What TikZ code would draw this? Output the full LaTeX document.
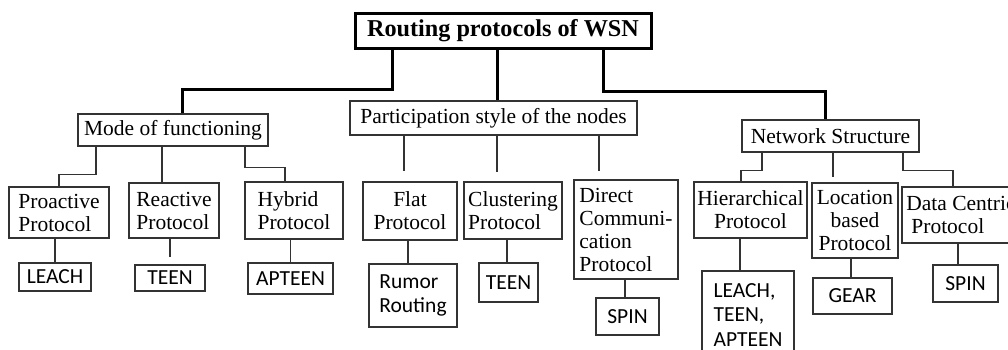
\documentclass[tikz,border=0pt]{standalone}
\usepackage{fontspec}
\setmainfont{Liberation Serif}
\newfontfamily\calfont{Carlito}

\begin{document}
\begin{tikzpicture}[x=1pt, y=-1pt,
  box/.style={draw=black!80, line width=1.2pt, inner sep=0pt, align=left, font=\fontsize{21.5}{23}\selectfont},
  leaf/.style={box, font=\calfont\fontsize{21.5}{24.5}\selectfont},
  trunk/.style={line width=3pt},
  branch/.style={draw=black!80, line width=1.3pt}]
\useasboundingbox (0,0) rectangle (1008,349);
\node[draw, line width=3pt, inner sep=0pt, minimum width=296pt, minimum height=35pt, font=\fontsize{24.2}{26}\selectfont\bfseries] (title) at (503,30.5) {Routing protocols of WSN};
\node[box, minimum width=190pt, minimum height=32pt] (mode) at (173,130) {Mode of functioning};
\node[box, minimum width=287pt, minimum height=34pt] (part) at (493.5,118) {Participation style of the nodes};
\node[box, minimum width=177pt, minimum height=32pt] (net) at (830.5,136) {Network Structure};
\node[box, minimum width=100pt, minimum height=51pt] (pro) at (59,212.5) {Proactive\\Protocol\hspace{6pt}};
\node[box, minimum width=90pt, minimum height=55pt] (react) at (174,210.5) {Reactive\\Protocol};
\node[box, minimum width=98pt, minimum height=57pt] (hyb) at (294,210.5) {Hybrid\\Protocol};
\node[box, align=center, minimum width=94pt, minimum height=58pt] (flat) at (410,211) {Flat\\Protocol};
\node[box, minimum width=98pt, minimum height=57pt] (clu) at (513,210.5) {Clustering\\Protocol};
\node[box, minimum width=104pt, minimum height=99pt] (dir) at (626,229.5) {Direct\\Communi-\\cation\\Protocol};
\node[box, align=center, minimum width=113pt, minimum height=56pt] (hier) at (750.5,210) {Hierarchical\\Protocol};
\node[box, align=center, minimum width=86pt, minimum height=75pt] (loc) at (855,220.5) {Location\\based\\Protocol};
\node[box, minimum width=118pt, minimum height=56pt] (data) at (961,215) {Data Centric\\\hspace{5pt}Protocol};
\node[leaf, minimum width=72pt, minimum height=28pt] (leach) at (55,277) {LEACH};
\node[leaf, minimum width=70pt, minimum height=26pt] (teen) at (170,278) {TEEN};
\node[leaf, minimum width=85pt, minimum height=31pt] (apteen) at (290.5,278.5) {APTEEN};
\node[leaf, minimum width=88pt, minimum height=63pt] (rumor) at (413,295.5) {Rumor\\Routing};
\node[leaf, minimum width=59pt, minimum height=39pt] (teenb) at (508.5,282.5) {TEEN};
\node[leaf, minimum width=63pt, minimum height=37pt] (spin) at (627.5,316.5) {SPIN};
\node[leaf, minimum width=92pt, minimum height=88pt] (mixed) at (748,315) {LEACH,\\TEEN,\\APTEEN};
\node[leaf, minimum width=79pt, minimum height=36pt] (gear) at (852.5,296) {GEAR};
\node[leaf, minimum width=65pt, minimum height=37pt] (spinb) at (965.5,283.5) {SPIN};
\draw[trunk] ([xshift=-111pt]title.south) -- ++(0,40) -| ([xshift=9pt]mode.north);
\draw[trunk] ([xshift=-6pt]title.south) -- ([xshift=3.5pt]part.north);
\draw[trunk] ([xshift=100pt]title.south) -- ++(0,42) -| ([xshift=-5.5pt]net.north);
\draw[branch] ([xshift=-77pt]mode.south) -- ++(0,28) -| (pro.north);
\draw[branch] ([xshift=-11pt]mode.south) -- ([xshift=-12pt]react.north);
\draw[branch] ([xshift=72pt]mode.south) -- ++(0,21) -| ([xshift=-9pt]hyb.north);
\draw[branch, shorten >=10pt] ([xshift=-89.5pt]part.south) -- ([xshift=-6pt]flat.north);
\draw[branch, shorten >=9pt] ([xshift=3.5pt]part.south) -- ([xshift=-16pt]clu.north);
\draw[branch, shorten >=8pt] ([xshift=105.5pt]part.south) -- ([xshift=-27pt]dir.north);
\draw[branch] ([xshift=-68.5pt]net.south) -- ++(0,18) -| ([xshift=-9.5pt]hier.north);
\draw[branch, shorten >=5pt] ([xshift=2.5pt]net.south) -- ([xshift=-22pt]loc.north);
\draw[branch] ([xshift=72.5pt]net.south) -- ++(0,18) -| ([xshift=-8pt]data.north);
\draw[branch] (pro.south -| leach.north) -- (leach.north);
\draw[branch, shorten >=7pt] (react.south -| teen.north) -- (teen.north);
\draw[branch] (hyb.south -| apteen.north) -- (apteen.north);
\draw[branch] ([xshift=-2pt]flat.south) -- ([xshift=-5pt]rumor.north);
\draw[branch] ([xshift=-6pt]clu.south) -- ([xshift=-1.5pt]teenb.north);
\draw[branch] ([xshift=-1pt]dir.south) -- ([xshift=-2.5pt]spin.north);
\draw[branch] ([xshift=-10.5pt]hier.south) -- ([xshift=-8pt]mixed.north);
\draw[branch] ([xshift=-4pt]loc.south) -- ([xshift=-1.5pt]gear.north);
\draw[branch] ([xshift=-3pt]data.south) -- ([xshift=-7.5pt]spinb.north);
\end{tikzpicture}
\end{document}
